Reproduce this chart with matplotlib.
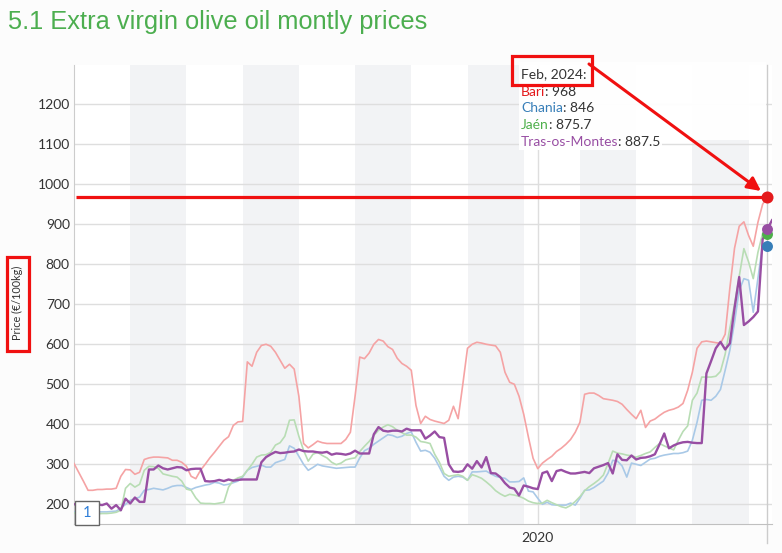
import numpy as np
import pandas as pd
import matplotlib
matplotlib.use("Agg")
import matplotlib.pyplot as plt
from matplotlib.patches import Rectangle, FancyArrowPatch
import matplotlib.transforms as mtrans

# ---------------- data ----------------
months = pd.date_range("2011-10-01", periods=150, freq="MS")

bari = [302, 280, 258, 235, 235, 237, 237, 238, 238, 240,
        270, 287, 286, 275, 280, 312, 316, 318, 318, 317,
        316, 310, 310, 305, 295, 270, 264, 285, 300, 316,
        330, 345, 360, 369, 397, 406, 407, 556, 545, 580,
        597, 600, 595, 580, 560, 540, 550, 538, 470, 352,
        341, 349, 358, 354, 352, 352, 352, 352, 362, 380,
        470, 568, 564, 578, 600, 612, 608, 594, 587, 565,
        552, 545, 535, 447, 402, 420, 412, 408, 405, 402,
        410, 445, 414, 500, 590, 600, 605, 603, 600, 598,
        596, 580, 530, 505, 500, 470, 425, 368, 315, 289,
        303, 312, 320, 332, 340, 350, 362, 380, 405, 475,
        478, 478, 472, 464, 462, 460, 457, 450, 437, 425,
        414, 435, 392, 408, 413, 422, 430, 435, 438, 443,
        452, 485, 530, 590, 606, 608, 606, 604, 602, 625,
        740, 840, 895, 906, 872, 845, 905, 950, 968, None]

chania = [181, 181, 181, 181, 181, 181, 181, 181, 182, 183,
          190, 200, 210, 214, 218, 235, 237, 240, 238, 236,
          240, 245, 247, 247, 242, 237, 242, 245, 248, 250,
          255, 253, 248, 250, 254, 258, 268, 285, 292, 295,
          298, 293, 293, 304, 308, 312, 346, 340, 320, 300,
          285, 292, 300, 296, 294, 292, 290, 291, 292, 293,
          293, 316, 334, 340, 350, 358, 366, 374, 372, 367,
          370, 377, 381, 355, 333, 335, 330, 315, 293, 270,
          260, 268, 270, 268, 260, 281, 281, 282, 283, 276,
          270, 267, 265, 256, 256, 257, 266, 233, 231, 215,
          200, 205, 199, 198, 198, 198, 203, 198, 215, 235,
          236, 242, 250, 258, 278, 310, 308, 296, 268, 303,
          300, 297, 305, 313, 315, 320, 323, 325, 327, 327,
          329, 333, 360, 405, 460, 462, 460, 470, 487, 535,
          585, 655, 735, 764, 760, 680, 764, 850, 846, None]

jaen = [178, 177, 177, 176, 176, 176, 177, 177, 178, 180,
        185, 240, 252, 243, 250, 285, 295, 294, 290, 276,
        273, 270, 268, 258, 238, 235, 216, 203, 202, 202,
        201, 203, 205, 243, 260, 266, 270, 285, 300, 318,
        323, 324, 330, 348, 354, 370, 410, 411, 370, 335,
        308, 325, 330, 322, 316, 305, 299, 303, 311, 314,
        316, 332, 345, 357, 372, 385, 393, 399, 394, 385,
        379, 373, 373, 368, 357, 355, 352, 325, 305, 277,
        270, 272, 274, 270, 260, 274, 270, 265, 256, 246,
        234, 226, 220, 225, 223, 220, 215, 208, 204, 202,
        203, 210, 204, 199, 194, 191, 197, 207, 219, 234,
        244, 252, 261, 273, 302, 333, 328, 326, 323, 321,
        318, 322, 327, 331, 342, 352, 346, 341, 336, 360,
        382, 396, 460, 478, 518, 518, 518, 520, 532, 575,
        640, 700, 770, 839, 806, 764, 830, 877, 875.7, None]

tras = [200, 200, 201, 199, 201, 200, 198, 202, 189, 198,
        185, 214, 202, 217, 206, 206, 287, 287, 297, 290,
        287, 290, 293, 292, 285, 288, 289, 289, 258, 257,
        258, 261, 258, 262, 259, 261, 262, 262, 262, 262,
        305, 318, 325, 331, 328, 329, 331, 332, 337, 333,
        332, 332, 330, 329, 331, 324, 327, 326, 324, 327,
        334, 327, 327, 327, 375, 393, 384, 382, 384, 384,
        382, 389, 385, 385, 385, 364, 372, 382, 368, 366,
        300, 282, 281, 283, 300, 289, 308, 292, 318, 278,
        277, 268, 253, 242, 239, 222, 247, 244, 240, 238,
        278, 282, 258, 283, 286, 281, 277, 277, 279, 281,
        278, 290, 294, 298, 303, 277, 325, 311, 310, 322,
        312, 316, 317, 320, 325, 350, 377, 340, 347, 352,
        355, 356, 354, 353, 353, 527, 558, 590, 606, 587,
        602, 690, 768, 648, 657, 668, 682, 862, 887.5, 910]

series_names = ["Bari", "Chania", "Jaén", "Tras-os-Montes"]
series_values = [bari, chania, jaen, tras]
line_colors = ["#f5a3a4", "#a9c9e7", "#b8ddb4", "#984ea3"]
dot_colors = ["#e41a1c", "#377eb8", "#4daf4a", "#984ea3"]
yticks = [200, 300, 400, 500, 600, 700, 800, 900, 1000, 1100, 1200]
band_starts = ["2012-10", "2014-10", "2016-10", "2018-10", "2020-10", "2022-10"]
hover_month = "2024-02"
xtick_label = "2020"

# ---------------- figure ----------------
W, H = 782, 553
fig = plt.figure(figsize=(W / 100, H / 100), dpi=100, facecolor="#fcfcfc")


def px(x, y):
    return (x / W, 1 - y / H)


L, R, T, B = 74, 772, 65, 523.5
ax = fig.add_axes([L / W, 1 - B / H, (R - L) / W, (B - T) / H])
ax.set_facecolor("white")

x = np.arange(len(months))
mlabels = [m.strftime("%Y-%m") for m in months]
ax.set_xlim(0, 149)
ax.set_ylim(152, 1298)

for s in band_starts:
    i0 = mlabels.index(s)
    ax.axvspan(i0, i0 + 12, color="#f2f3f5", zorder=0.3, lw=0)

ax.set_axisbelow(True)
ax.grid(True, color="#dedede", lw=1)
ax.set_yticks(yticks)
ax.set_yticklabels([str(v) for v in yticks], fontfamily="Lato", fontsize=10, color="#333333")
ax.set_xticks([mlabels.index("2020-01")])
ax.set_xticklabels([xtick_label], fontfamily="Lato", fontsize=10, color="#333333")
ax.tick_params(axis="y", length=0, pad=3)
ax.tick_params(axis="x", length=0, pad=6)
for sp in ["top", "right"]:
    ax.spines[sp].set_visible(False)
ax.spines["left"].set_color("#cccccc")
ax.spines["bottom"].set_color("#c0c0c0")

hi = mlabels.index(hover_month)

# crosshair (extends a little below the axis)
blend = mtrans.blended_transform_factory(ax.transData, fig.transFigure)
ax.plot([hi, hi], [1 - 65 / H, 1 - 543 / H], transform=blend, color="#cccccc", lw=1,
        zorder=2, clip_on=False)

for name, vals, c in zip(series_names, series_values, line_colors):
    v = np.array([np.nan if a is None else a for a in vals], dtype=float)
    lw = 1.7 if name == "Tras-os-Montes" else 1.2
    ax.plot(x, v, color=c, lw=lw, zorder=3)

# red horizontal annotation line at Bari's value
ax.plot([0.4, hi], [bari[hi], bari[hi]], color="#f01010", lw=2.3, zorder=4, solid_capstyle="butt")

order = [1, 2, 3, 0]
for k in order:
    s = 75 if k == 0 else 62
    ax.scatter([hi], [series_values[k][hi]], s=s, color=dot_colors[k], zorder=6, clip_on=False, lw=0)

# tooltip background
fig.add_artist(Rectangle(px(519, 150), (662 - 519) / W, (150 - 62) / H, transform=fig.transFigure,
                         facecolor="white", edgecolor="none", alpha=0.95, zorder=5))
fig.add_artist(Rectangle(px(662, 140), (766 - 662) / W, (140 - 62) / H, transform=fig.transFigure,
                         facecolor="white", edgecolor="none", alpha=0.95, zorder=5))

fig.canvas.draw()
renderer = fig.canvas.get_renderer()

tx = 521
fig.text(*px(tx, 74), months[hi].strftime("%b, %Y") + ":", fontfamily="Lato", fontsize=10,
         color="#333333", va="center", ha="left", zorder=7)
for j, (name, vals, c) in enumerate(zip(series_names, series_values, dot_colors)):
    yy = 91.5 + j * 16.7
    t = fig.text(*px(tx, yy), name, fontfamily="Lato", fontsize=10, color=c, va="center", ha="left", zorder=7)
    bb = t.get_window_extent(renderer)
    val = vals[hi]
    vs = f"{val:g}"
    fig.text(bb.x1 / W, 1 - yy / H, ": " + vs, fontfamily="Lato", fontsize=10, color="#333333",
             va="center", ha="left", zorder=7)

# red highlight rectangles and arrow
fig.add_artist(Rectangle(px(512, 84.5), (591.5 - 512) / W, (84.5 - 55.5) / H, transform=fig.transFigure,
                         facecolor="none", edgecolor="#f01010", lw=2.3, zorder=8))
fig.add_artist(Rectangle(px(6.5, 350.5), (29 - 6.5) / W, (350.5 - 257) / H, transform=fig.transFigure,
                         facecolor="none", edgecolor="#f01010", lw=2.3, zorder=8))
arr = FancyArrowPatch(px(589, 64), px(761, 191), transform=fig.transFigure, arrowstyle="-|>",
                      mutation_scale=20, color="#f01010", lw=2.2, zorder=8, shrinkA=0, shrinkB=0)
fig.add_artist(arr)

# y-axis title
fig.text(*px(17.5, 303), "Price (€/100kg)", rotation=90, fontfamily="Lato", fontsize=7.8,
         color="#333333", ha="center", va="center")

# small "1" box
fig.add_artist(Rectangle(px(75, 525), 24 / W, 24 / H, transform=fig.transFigure,
                         facecolor="white", edgecolor="#666666", lw=1, zorder=8))
fig.text(*px(87, 513), "1", fontfamily="Lato", fontsize=10.5, color="#2f7ed8", ha="center", va="center", zorder=9)

# title
fig.text(*px(8, 29.5), "5.1 Extra virgin olive oil montly prices", fontfamily="Liberation Sans",
         fontsize=18.3, color="#4cae4f", ha="left", va="baseline")

fig.savefig("out.png", dpi=100, facecolor=fig.get_facecolor())
